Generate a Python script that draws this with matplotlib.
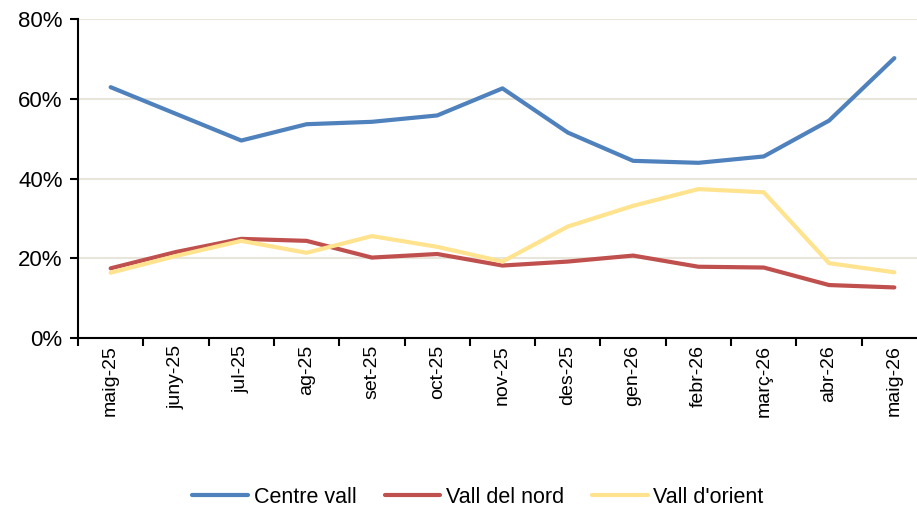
import matplotlib
matplotlib.use("Agg")
from matplotlib import pyplot as plt
import numpy as np

plt.rcParams['font.family'] = ['Liberation Sans', 'DejaVu Sans']

months = ['maig-25', 'juny-25', 'jul-25', 'ag-25', 'set-25', 'oct-25', 'nov-25',
          'des-25', 'gen-26', 'febr-26', 'març-26', 'abr-26', 'maig-26']

centre_vall = [63.0, 56.3, 49.6, 53.7, 54.3, 55.9, 62.7, 51.6, 44.5, 44.0, 45.6, 54.6, 70.3]
vall_nord = [17.5, 21.6, 24.9, 24.4, 20.2, 21.1, 18.2, 19.2, 20.7, 17.9, 17.7, 13.3, 12.7]
vall_orient = [16.4, 20.6, 24.4, 21.4, 25.6, 22.9, 19.2, 28.0, 33.2, 37.4, 36.6, 18.8, 16.5]

W, H = 917, 511
fig = plt.figure(figsize=(W / 100, H / 100), dpi=100)
# plot area runs a little past the right edge, as in the original
ax = fig.add_axes([78 / W, 1 - 338 / H, (927 - 78) / W, (338 - 19.5) / H])

x = np.arange(len(months))
ax.plot(x, centre_vall, color='#4F81BD', lw=3, label='Centre vall', solid_capstyle='round')
ax.plot(x, vall_nord, color='#C0504D', lw=3, label='Vall del nord', solid_capstyle='round')
ax.plot(x, vall_orient, color='#FFE38F', lw=3, label="Vall d'orient", solid_capstyle='round')

ax.set_xlim(-0.5, len(months) - 0.5)
ax.set_ylim(0, 80)
ax.set_yticks([0, 20, 40, 60, 80])
ax.set_yticklabels(['0%', '20%', '40%', '60%', '80%'], fontsize=16)
ax.grid(axis='y', color='#E8E6DA', lw=1.5)
ax.set_axisbelow(True)

# tick marks between categories, labels centred on categories
ax.set_xticks(np.arange(-0.5, len(months), 1.0))
ax.set_xticklabels([])
ax.set_xticks(x, minor=True)
ax.set_xticklabels(months, minor=True, rotation=90, fontsize=14)
ax.tick_params(axis='x', which='minor', length=0, pad=5)
ax.tick_params(axis='both', which='major', length=6, width=1.5, color='black')
ax.tick_params(axis='y', pad=5)

for s in ['top', 'right']:
    ax.spines[s].set_visible(False)
for s in ['left', 'bottom']:
    ax.spines[s].set_linewidth(1.5)
    ax.spines[s].set_color('black')

fig.legend(loc='center', bbox_to_anchor=(478 / W, 1 - 497 / H), ncol=3, frameon=False,
           fontsize=15.5, handlelength=2.6, columnspacing=1.3, handletextpad=0.25)

fig.savefig('out.png', dpi=100)
